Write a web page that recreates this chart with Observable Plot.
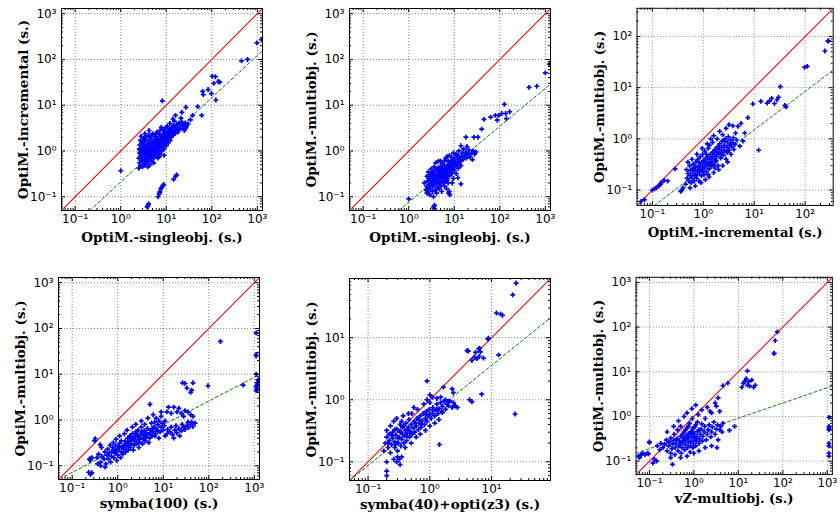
<!DOCTYPE html>
<html><head><meta charset="utf-8">
<script src="https://cdn.jsdelivr.net/npm/d3@7"></script>
<script src="https://cdn.jsdelivr.net/npm/@observablehq/plot@0.6"></script>
<style>
html,body{margin:0;padding:0;background:#fff;overflow:hidden;}
#chart{position:relative;width:840px;height:520px;overflow:hidden;background:#fff;}
.panel{position:absolute;}
</style></head><body><div id="chart"></div>
<script>
// ---------- DATA ----------
const xLabels = ["OptiM.-singleobj. (s.)", "OptiM.-singleobj. (s.)", "OptiM.-incremental (s.)", "symba(100) (s.)", "symba(40)+opti(z3) (s.)", "vZ-multiobj. (s.)"];
const yLabels = ["OptiM.-incremental (s.)", "OptiM.-multiobj. (s.)", "OptiM.-multiobj. (s.)", "OptiM.-multiobj. (s.)", "OptiM.-multiobj. (s.)", "OptiM.-multiobj. (s.)"];
const axisLimits = [[0.05, 1300], [0.05, 1300], [0.05, 355], [0.05, 1300], [0.05, 90], [0.05, 1300]];
const decadeTicks = [0.01, 0.1, 1, 10, 100, 1000];

// [x, y] pairs, seconds
const singleVsIncremental = [
[2.5,0.42],[2.6,0.55],[2.5,0.7],[2.6,0.9],[2.55,1.1],[2.6,1.35],[2.7,1.7],[2.7,0.48],[2.8,0.62],[2.8,0.8],[2.75,1.0],[2.85,1.2],[2.9,1.5],[2.8,2.1],
[3.0,0.45],[3.1,0.58],[3.0,0.72],[3.1,0.88],[3.0,1.05],[3.2,1.25],[3.1,1.6],[3.2,1.9],[3.3,0.5],[3.4,0.65],[3.3,0.8],[3.4,0.95],[3.5,1.15],[3.3,1.4],[3.5,1.75],[3.4,2.4],
[3.7,0.55],[3.8,0.7],[3.6,0.85],[3.8,1.0],[3.7,1.25],[3.9,1.5],[3.6,2.0],[3.9,0.45],[4.0,0.6],[4.1,0.78],[4.0,0.92],[4.2,1.1],[4.0,1.35],[4.3,1.7],[4.1,2.2],[4.2,2.8],
[4.4,0.5],[4.5,0.68],[4.4,0.85],[4.6,1.0],[4.5,1.2],[4.7,1.45],[4.5,1.9],[4.8,0.6],[4.9,0.75],[4.8,0.95],[5.0,1.1],[4.9,1.3],[5.1,1.6],[5.0,2.4],
[5.3,0.55],[5.4,0.72],[5.5,0.9],[5.3,1.05],[5.6,1.25],[5.4,1.5],[5.7,1.8],[5.5,2.1],[5.9,0.8],[6.0,1.0],[6.1,1.2],[5.9,1.4],[6.2,1.65],[6.0,2.0],[6.3,2.6],
[6.5,0.7],[6.6,0.9],[6.8,1.1],[6.6,1.3],[6.9,1.55],[6.7,1.85],[7.0,2.3],[7.2,0.85],[7.4,1.05],[7.3,1.25],[7.5,1.5],[7.4,1.8],[7.6,2.1],[7.3,2.8],[7.8,3.3],
[8.0,1.0],[8.2,1.2],[8.1,1.45],[8.4,1.7],[8.3,2.0],[8.6,2.4],[8.5,2.9],[8.9,1.1],[9.0,1.35],[9.2,1.6],[9.1,1.9],[9.4,2.3],[9.3,2.7],[9.6,3.2],[9.0,0.8],
[10,1.3],[10.2,1.6],[10.5,1.95],[10.3,2.3],[10.8,2.7],[10.5,3.5],[11,1.5],[11.5,1.9],[11.3,2.2],[11.8,2.6],[11.5,3.0],[12,4.0],[12.2,1.7],
[12.8,2.0],[13,2.4],[13.5,2.8],[13.2,3.3],[14,2.2],[14.5,2.6],[14.2,3.6],[15,3.0],[15.5,2.4],[16,3.4],[15,4.5],[16.5,2.9],[17,3.8],
[18,2.6],[18.5,3.2],[19,4.1],[20,3.0],[21,3.6],[22,4.3],[23,3.1],[24,3.8],[25,2.8],[26,4.1],[28,3.5],[30,3.9],[27,3.2],[21,5.2],[16,6],[22,7],[14,5],
[2.9,0.9],[3.2,1.1],[3.6,0.65],[3.9,1.2],[4.3,0.95],[4.6,0.78],[5.2,0.85],[5.6,1.1],[6.3,1.45],[6.8,1.7],[7.7,1.35],[8.6,1.3],[9.8,1.8],[11,2.4],[12.5,2.9],[3.5,0.52],[4.7,2.1],[5.8,2.35],[7.1,0.75],[8.8,2.1],
[1.0,0.37],[8.2,12.5],[27,9],[49,9.3],[60,6],[38,6],[34,4.8],
[4.0,0.065],[3.8,0.06],[4.1,0.07],[6.6,0.1],[7.0,0.115],[7.3,0.13],[7.6,0.15],[8.0,0.16],[8.4,0.175],[8.8,0.185],[7.2,0.125],[14.5,0.24],[16,0.28],[17,0.3],
[63,20],[65,17],[83,22],[102,43],[120,42],[138,33],[110,30],[150,32],[123,13],[98,18],
[450,93],[610,100],[980,230],[1230,270]
];

const singleVsMulti = [
[2.2,0.2],[2.4,0.14],[2.5,0.12],[2.5,0.17],[2.6,0.22],[2.5,0.28],[2.7,0.35],[2.7,0.13],[2.8,0.18],[2.8,0.25],[2.9,0.3],[2.9,0.11],
[3.0,0.15],[3.1,0.2],[3.0,0.26],[3.2,0.32],[3.1,0.4],[3.3,0.13],[3.4,0.17],[3.3,0.22],[3.5,0.28],[3.4,0.35],[3.6,0.45],[3.5,0.1],
[3.8,0.14],[3.7,0.19],[3.9,0.24],[3.8,0.3],[4.0,0.38],[3.9,0.55],[4.1,0.12],[4.2,0.16],[4.3,0.21],[4.2,0.27],[4.4,0.33],[4.3,0.42],[4.5,0.6],
[4.6,0.15],[4.7,0.19],[4.8,0.24],[4.7,0.3],[4.9,0.37],[5.0,0.47],[5.1,0.17],[5.2,0.22],[5.3,0.28],[5.2,0.35],[5.4,0.42],[5.5,0.55],[5.3,0.13],
[5.7,0.2],[5.8,0.25],[5.9,0.31],[5.8,0.38],[6.0,0.48],[6.2,0.62],[6.1,0.17],[6.4,0.22],[6.5,0.28],[6.3,0.35],[6.6,0.43],[6.5,0.7],
[6.9,0.25],[7.0,0.31],[7.2,0.38],[7.1,0.5],[7.4,0.6],[7.3,0.2],[7.6,0.28],[7.8,0.35],[7.7,0.44],[8.0,0.55],[7.9,0.8],
[8.3,0.3],[8.5,0.38],[8.6,0.47],[8.4,0.6],[8.8,0.72],[9.0,0.33],[9.2,0.42],[9.4,0.52],[9.1,0.65],[9.6,0.9],[9.5,0.25],
[10,0.38],[10.3,0.46],[10.6,0.58],[10.2,0.72],[11,0.85],[11,0.32],[11.5,0.5],[11.8,0.65],[12,0.8],[12.3,0.42],[12.8,0.55],[13,0.7],[12.5,1.0],
[13.8,0.6],[14.5,0.75],[14,0.48],[15,0.9],[15.5,0.65],[16,1.1],[17,0.8],[18,0.95],[18.5,0.7],[20,0.85],[21,1.05],[22,0.75],[24,0.9],[26,1.0],[25,0.65],[28,0.85],[30,0.95],[14,1.3],[19,1.25],
[2.6,0.16],[3.0,0.19],[3.6,0.23],[4.0,0.2],[4.5,0.26],[5.0,0.3],[5.6,0.33],[6.2,0.4],[6.8,0.36],[7.5,0.47],[8.2,0.42],[9.3,0.6],[10.8,0.53],[3.3,0.28],[4.6,0.4],[5.6,0.26],[7.0,0.23],[8.9,0.5],
[9,0.2],[12,0.26],[14,0.19],[5,0.6],[7,0.75],
[1.0,0.09],[3.5,0.06],[3.6,0.055],[3.7,0.065],[6.8,0.15],[7.5,0.12],[8,0.11],[7.8,0.13],
[18,2],[27,2],[33,2],[45,4.9],[63,5.5],[80,6],[88,4.7],[110,6.6],[126,10.5],[95,6],[140,5.1],[135,6.6],[165,7.2],[40,3],
[440,24.5],[650,26],[1000,51],[1230,79]
];

const incrementalVsMulti = [
[0.45,0.13],[0.48,0.17],[0.5,0.21],[0.47,0.25],[0.52,0.15],[0.55,0.19],[0.56,0.24],[0.54,0.3],[0.58,0.14],
[0.6,0.17],[0.62,0.21],[0.61,0.26],[0.64,0.32],[0.66,0.15],[0.68,0.19],[0.7,0.23],[0.69,0.28],[0.72,0.36],[0.74,0.17],
[0.76,0.2],[0.78,0.25],[0.8,0.3],[0.79,0.4],[0.83,0.15],[0.85,0.22],[0.87,0.27],[0.9,0.33],[0.88,0.45],[0.92,0.19],
[0.95,0.24],[0.97,0.3],[1.0,0.37],[0.98,0.5],[1.03,0.2],[1.05,0.27],[1.08,0.33],[1.1,0.41],[1.07,0.58],[1.15,0.23],
[1.18,0.3],[1.2,0.36],[1.22,0.45],[1.25,0.65],[1.3,0.26],[1.32,0.33],[1.35,0.4],[1.38,0.5],[1.33,0.75],[1.45,0.29],
[1.48,0.36],[1.5,0.44],[1.55,0.55],[1.52,0.85],[1.6,0.31],[1.65,0.4],[1.68,0.49],[1.7,0.62],[1.75,0.36],[1.8,0.45],
[1.85,0.55],[1.9,0.7],[1.88,1.0],[1.95,0.3],[2.0,0.5],[2.05,0.62],[2.1,0.8],[2.2,0.42],[2.25,0.55],[2.3,0.68],
[2.35,0.9],[2.4,1.2],[2.5,0.48],[2.55,0.6],[2.6,0.75],[2.7,1.0],[2.8,0.4],[2.85,0.55],[2.9,0.68],[3.0,0.85],
[3.1,1.1],[3.2,0.6],[3.3,0.75],[3.4,0.95],[3.5,0.5],[3.6,0.7],[3.8,0.85],[3.9,1.05],[4.0,0.62],[4.2,0.78],[4.5,0.95],[4.3,1.3],
[0.5,0.35],[0.6,0.4],[0.75,0.5],[0.95,0.65],[1.2,0.8],[1.4,1.0],[1.6,1.15],[2.1,1.4],[2.8,1.6],[3.2,1.9],
[0.55,0.11],[0.7,0.12],[0.9,0.14],[1.1,0.16],[1.3,0.18],[1.6,0.22],[2.0,0.25],[2.4,0.3],[3.0,0.35],
[0.65,0.26],[0.82,0.35],[1.0,0.23],[1.15,0.5],[1.4,0.33],[1.6,0.56],[1.8,0.38],[2.0,0.68],[2.3,0.5],[2.6,0.9],[3.0,0.55],[3.5,0.8],[1.25,0.2],[1.7,0.27],[0.9,0.25],
[0.06,0.06],[0.07,0.065],[0.1,0.1],[0.11,0.105],[0.12,0.11],[0.135,0.12],[0.15,0.14],[0.17,0.155],[0.145,0.13],[0.28,0.26],[0.2,0.15],
[0.36,0.094],[0.4,0.11],[0.38,0.1],
[7.5,2.6],[4.8,1.75],[9.4,4.8],[13.5,5.4],[20,5.5],[22,6.2],[25,4.9],[30,6.5],[32.6,10.5],[40,4.5],[42,4.2],[28,5.8],[18,5.0],[12.2,0.6],[6,0.9],[5.2,0.72],[6.5,1.3],[5.5,2.0],[3.8,1.8],
[97,25],[110,26],[244,52],[278,81],[290,82]
];

const symbaVsMulti = [
[0.42,0.12],[0.45,0.16],[0.5,0.14],[0.52,0.2],[0.55,0.11],[0.58,0.17],[0.6,0.23],[0.62,0.14],[0.65,0.19],[0.68,0.28],
[0.7,0.12],[0.72,0.16],[0.75,0.21],[0.78,0.25],[0.8,0.32],[0.82,0.15],[0.85,0.19],[0.88,0.23],[0.9,0.28],[0.92,0.38],
[0.95,0.13],[1.0,0.17],[1.0,0.22],[1.05,0.26],[1.1,0.31],[1.1,0.45],[1.15,0.15],[1.2,0.2],[1.25,0.25],[1.2,0.35],
[1.3,0.18],[1.35,0.23],[1.4,0.28],[1.45,0.34],[1.4,0.5],[1.5,0.2],[1.55,0.26],[1.6,0.31],[1.65,0.4],[1.6,0.6],
[1.7,0.22],[1.75,0.28],[1.8,0.35],[1.85,0.45],[1.9,0.25],[2.0,0.3],[2.0,0.38],[2.1,0.5],[2.1,0.7],[2.2,0.22],
[2.3,0.28],[2.35,0.34],[2.4,0.42],[2.5,0.55],[2.5,0.8],[2.6,0.3],[2.7,0.37],[2.8,0.45],[2.8,0.6],[2.9,0.25],
[3.0,0.33],[3.1,0.4],[3.2,0.5],[3.3,0.7],[3.3,0.95],[3.5,0.3],[3.6,0.38],[3.7,0.46],[3.8,0.58],[3.9,0.8],
[4.0,0.35],[4.2,0.42],[4.3,0.52],[4.5,0.65],[4.6,1.1],[4.8,0.32],[5.0,0.4],[5.1,0.5],[5.3,0.6],[5.5,0.85],
[5.7,0.45],[6.0,0.55],[6.2,0.7],[6.5,0.9],[6.8,0.5],[7.0,0.62],[7.5,0.78],[8,0.95],[8,0.4],[8.5,0.55],
[9,0.7],[9.5,0.85],[10,0.6],[10.5,0.75],[11,0.95],[11,0.45],[12,0.5],[12.5,0.62],[7,1.1],[9,1.2],
[0.9,0.2],[1.3,0.27],[1.7,0.32],[2.2,0.4],[2.6,0.48],[3.4,0.55],[4.4,0.48],[5.8,0.65],[7.6,0.58],[1.1,0.25],[1.9,0.42],[2.9,0.42],[3.9,0.45],[6.5,0.45],
[14,0.55],[16,0.48],[18,0.6],[20,0.52],[22,0.65],[25,0.58],[28,0.7],[30,0.62],[33,0.75],[36,0.68],[40,0.8],[45,0.72],[50,0.85],[42,0.9],[35,0.9],[26,0.8],[15,0.7],[19,0.75],[23,0.45],[17,0.4],
[5.1,2.2],[13,1.9],[17,1.9],[12,1.5],[15,1.4],[20,1.5],[25,1.4],[30,1.6],[35,1.5],[40,1.3],[22,1.8],[9,1.5],[6,1.3],[28,1.2],[45,1.2],
[0.23,0.072],[0.25,0.065],[0.27,0.07],[0.25,0.13],[0.27,0.15],[0.24,0.14],[0.26,0.145],[0.32,0.39],[0.31,0.35],[0.36,0.11],[0.42,0.1],[0.53,0.093],[0.41,0.29],[0.44,0.25],[0.35,0.15],[0.38,0.18],
[26.5,6.5],[30,6.3],[33,5],[42,4.5],[45,6.5],[40,4],[96,5.6],[180,52],[570,5.8],
[1100,80],[1100,27],[1100,25],[1100,10],[1150,6.5],[1100,5.3],[1150,4.6],[1100,4.4],[1150,5.8],[1200,7.5]
];

const symbaOptiVsMulti = [
[0.18,0.15],[0.19,0.2],[0.2,0.25],[0.2,0.32],[0.21,0.17],[0.22,0.22],[0.22,0.28],[0.23,0.38],[0.23,0.14],[0.24,0.19],
[0.25,0.24],[0.25,0.3],[0.26,0.45],[0.27,0.17],[0.27,0.21],[0.28,0.27],[0.29,0.34],[0.29,0.5],[0.3,0.15],[0.31,0.2],
[0.32,0.25],[0.32,0.31],[0.33,0.4],[0.34,0.18],[0.35,0.23],[0.36,0.28],[0.36,0.36],[0.37,0.55],[0.38,0.2],[0.39,0.26],
[0.4,0.32],[0.41,0.42],[0.42,0.22],[0.43,0.29],[0.45,0.36],[0.46,0.48],[0.47,0.25],[0.48,0.31],[0.5,0.4],[0.51,0.6],
[0.52,0.28],[0.54,0.35],[0.56,0.45],[0.57,0.3],[0.6,0.38],[0.62,0.5],[0.63,0.7],[0.65,0.33],[0.68,0.42],[0.7,0.55],
[0.72,0.36],[0.75,0.46],[0.78,0.6],[0.8,0.85],[0.82,0.4],[0.85,0.5],[0.88,0.65],[0.9,0.45],[0.95,0.55],[0.98,0.7],
[1.0,0.9],[1.05,0.5],[1.1,0.6],[1.12,0.75],[1.2,0.55],[1.25,0.68],[1.3,0.85],[1.35,0.6],[1.4,0.72],[1.5,0.9],
[1.55,0.65],[1.6,0.78],[1.7,0.95],[1.8,0.7],[1.9,0.85],[2.0,0.8],[2.1,0.95],[2.3,0.75],[2.4,0.9],[2.6,0.8],[2.8,0.75],
[0.6,0.25],[0.7,0.28],[0.85,0.32],[1.0,0.38],[1.2,0.42],[0.5,0.2],[0.4,0.17],[1.4,0.48],[0.3,0.12],[0.26,0.11],
[0.9,1.0],[1.1,1.1],[1.3,1.05],[0.45,0.6],[0.35,0.45],[0.55,0.75],
[0.24,0.27],[0.27,0.33],[0.3,0.24],[0.34,0.3],[0.38,0.38],[0.44,0.33],[0.5,0.28],[0.58,0.42],[0.66,0.48],[0.74,0.4],[0.85,0.58],[1.0,0.6],[1.15,0.68],[1.3,0.7],[1.6,0.62],[0.21,0.2],[0.28,0.19],[0.42,0.26],
[0.2,0.071],[0.2,0.06],[0.29,0.1],[0.32,0.11],[0.35,0.12],[0.33,0.09],[0.2,0.1],
[0.9,2.0],[1.0,1.2],[1.5,1.1],[1.8,1.0],[2.0,0.95],[2.5,0.8],[1.43,0.19],[1.66,1.6],[2.3,1.5],[2.4,1.3],
[4,6.2],[4.2,6.1],[4.8,4.3],[5.3,4.8],[5.8,4.6],[6.3,5.0],[6.6,5.9],[6.2,6.6],[6.4,6.8],[5.5,5.8],[7.4,4.7],[8.9,9.8],[8.7,9.5],[13,5.3],
[4.4,1.0],[4.8,0.93],[6.9,1.23],[24,0.59],[12,25],[14,24],[15,23],[22,49],[25,76]
];

const vzVsMulti = [
[0.15,0.22],[0.17,0.18],[0.18,0.25],[0.2,0.2],[0.22,0.24],[0.24,0.3],[0.25,0.17],[0.27,0.22],[0.28,0.27],[0.3,0.33],
[0.3,0.15],[0.32,0.19],[0.33,0.24],[0.35,0.29],[0.36,0.4],[0.37,0.14],[0.38,0.2],[0.4,0.25],[0.42,0.32],[0.43,0.5],
[0.44,0.17],[0.46,0.22],[0.48,0.28],[0.5,0.36],[0.5,0.6],[0.52,0.15],[0.54,0.2],[0.56,0.26],[0.58,0.33],[0.6,0.45],
[0.62,0.18],[0.64,0.23],[0.66,0.3],[0.68,0.38],[0.7,0.55],[0.72,0.2],[0.74,0.26],[0.76,0.33],[0.78,0.42],[0.8,0.7],
[0.82,0.16],[0.84,0.22],[0.86,0.28],[0.88,0.36],[0.9,0.48],[0.92,0.9],[0.95,0.2],[0.97,0.25],[1.0,0.32],[1.0,0.42],
[1.05,0.58],[1.1,0.22],[1.12,0.28],[1.15,0.36],[1.2,0.46],[1.2,0.75],[1.25,1.1],[1.3,0.25],[1.35,0.32],[1.4,0.4],
[1.45,0.52],[1.5,0.68],[1.55,0.28],[1.6,0.36],[1.7,0.45],[1.75,0.6],[1.8,0.9],[1.9,0.3],[2.0,0.4],[2.1,0.5],
[2.2,0.65],[2.3,1.3],[2.4,0.35],[2.5,0.45],[2.6,0.58],[2.8,0.75],[3.0,0.4],[3.2,0.52],[3.4,0.65],[3.5,0.3],[3.8,0.5],[4.0,0.6],[4.3,0.45],[4.5,0.7],
[0.6,1.0],[0.7,1.2],[0.9,1.5],[1.1,1.8],[1.5,1.4],[2.0,1.6],[2.5,1.2],[0.45,0.8],[0.35,0.6],[0.25,0.45],
[0.3,0.12],[0.5,0.12],[0.7,0.13],[1.0,0.15],[1.3,0.17],[1.8,0.2],[2.5,0.22],[3.3,0.2],[0.33,0.085],
[0.4,0.3],[0.55,0.4],[0.65,0.5],[0.75,0.6],[0.85,0.45],[0.95,0.55],[1.1,0.65],[1.3,0.5],[0.6,0.3],[0.7,0.35],[0.9,0.4],[1.05,0.35],[1.2,0.32],[0.5,0.25],
[0.057,0.13],[0.06,0.12],[0.065,0.14],[0.07,0.15],[0.08,0.14],[0.09,0.15],[0.095,0.145],[0.1,0.27],[0.1,0.26],[0.145,0.1],[0.13,0.11],[0.12,0.09],
[4.5,4.9],[5.8,5.6],[16,10.5],[12,4.5],[13,5.5],[14,6.2],[15,7],[16,5],[18,4.8],[20,6.5],[22,4.5],[24,5],[17,6],
[8.2,0.6],[6.3,0.49],[3.5,2.6],[3.0,2.0],[3.2,1.7],[3.8,1.3],
[63,25.5],[64,26],[67,50],[75,78],
[1090,0.95],[1090,0.6],[1090,0.5],[1090,0.25],[1090,0.22],[1090,0.15],[1090,0.13],[1100,0.55]
];

// dashed fit line end points [x, y]
const fitLines = [
  [[0.21, 0.05], [1300, 155]],
  [[0.6, 0.05], [1300, 29]],
  [[0.11, 0.05], [355, 22]],
  [[0.067, 0.058], [1300, 9.8]],
  [[0.05, 0.05], [90, 21]],
  [[0.05, 0.15], [1300, 4.8]]
];
const panelData = [singleVsIncremental, singleVsMulti, incrementalVsMulti, symbaVsMulti, symbaOptiVsMulti, vzVsMulti];

// ---------- LAYOUT (frame left / top in page pixels) ----------
const frameBoxes = [
  {left: 61, top: 7.5}, {left: 349.3, top: 7.5}, {left: 637.5, top: 7.5},
  {left: 58.3, top: 277}, {left: 349.3, top: 278}, {left: 637.3, top: 277}
];
const FW = 201, FH = 202, ML = 62, MR = 8, MT = 8, MB = 46;
const xLabelOffset = [27.5, 27.5, 27.5, 24.5, 24.5, 24.5];

const supMap = {"-": "\u207B", "0": "\u2070", "1": "\u00B9", "2": "\u00B2", "3": "\u00B3"};
const fmt = d => "10" + String(Math.round(Math.log10(d))).split("").map(c => supMap[c]).join("");

function makePanel(i) {
  const data = panelData[i];
  const [lo, hi] = axisLimits[i];
  const majors = decadeTicks.filter(d => d >= lo && d <= hi);
  const minors = [];
  for (const d of decadeTicks) for (let m = 2; m <= 9; m++) { const v = d * m; if (v > lo && v < hi) minors.push(v); }
  const ident = [[lo, lo], [hi, hi]];
  const tickStyle = {stroke: "black", strokeWidth: 1};
  const grid = {stroke: "black", strokeOpacity: 0.6, strokeWidth: 0.8, strokeDasharray: "1,2"};
  const font = {fontFamily: "DejaVu Sans", fontSize: 12, fill: "black"};
  const lab = {fontFamily: "DejaVu Serif", fontWeight: "bold", fontSize: 13.5, fill: "black", textAnchor: "middle", lineAnchor: "middle"};
  return Plot.plot({
    width: ML + FW + MR, height: MT + FH + MB,
    marginLeft: ML, marginRight: MR, marginTop: MT, marginBottom: MB,
    x: {type: "log", domain: [lo, hi], label: null},
    y: {type: "log", domain: [lo, hi], label: null},
    style: {background: "transparent", overflow: "visible"},
    marks: [
      Plot.ruleX(majors, {x: d => d, ...grid}),
      Plot.ruleY(majors, {y: d => d, ...grid}),
      Plot.line(ident, {x: d => d[0], y: d => d[1], stroke: "#ff0000", strokeWidth: 1.1, clip: true}),
      Plot.line(fitLines[i], {x: d => d[0], y: d => d[1], stroke: "#008000", strokeWidth: 1, strokeDasharray: "3,2.5", clip: true}),
      Plot.dot(data, {x: d => d[0], y: d => d[1], symbol: "plus", r: 1.7, stroke: "#0000ff", strokeWidth: 1.7, clip: true}),
      Plot.tickX(majors, {x: d => d, insetTop: FH - 4, ...tickStyle}),
      Plot.tickX(majors, {x: d => d, insetBottom: FH - 4, ...tickStyle}),
      Plot.tickX(minors, {x: d => d, insetTop: FH - 2, ...tickStyle}),
      Plot.tickX(minors, {x: d => d, insetBottom: FH - 2, ...tickStyle}),
      Plot.tickY(majors, {y: d => d, insetRight: FW - 4, ...tickStyle}),
      Plot.tickY(majors, {y: d => d, insetLeft: FW - 4, ...tickStyle}),
      Plot.tickY(minors, {y: d => d, insetRight: FW - 2, ...tickStyle}),
      Plot.tickY(minors, {y: d => d, insetLeft: FW - 2, ...tickStyle}),
      Plot.frame({stroke: "black", strokeWidth: 1}),
      Plot.axisX(majors, {tickSize: 0, tickPadding: 4, tickFormat: fmt, label: null, ...font}),
      Plot.axisY(majors, {tickSize: 0, tickPadding: 5, tickFormat: fmt, label: null, ...font}),
      Plot.text([xLabels[i]], {text: d => d, frameAnchor: "bottom", dy: xLabelOffset[i], ...lab}),
      Plot.text([yLabels[i]], {text: d => d, frameAnchor: "left", rotate: -90, dx: -38, ...lab})
    ]
  });
}

const chart = document.getElementById("chart");
for (let i = 0; i < 6; i++) {
  const div = document.createElement("div");
  div.className = "panel";
  div.style.left = (frameBoxes[i].left - ML) + "px";
  div.style.top = (frameBoxes[i].top - MT) + "px";
  div.appendChild(makePanel(i));
  chart.appendChild(div);
}
</script>
</body></html>
